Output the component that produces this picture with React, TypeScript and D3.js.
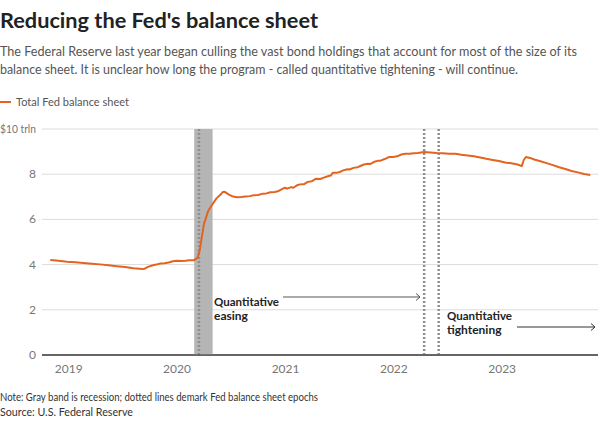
import React from "react";
import * as d3 from "d3";

const dates: string[] = [
  "2018-10-31","2018-11-28","2018-12-26","2019-01-23","2019-02-20","2019-03-20","2019-04-17","2019-05-15",
  "2019-06-12","2019-07-10","2019-08-07","2019-08-28","2019-09-11","2019-09-25","2019-10-09","2019-10-23",
  "2019-11-06","2019-11-20","2019-12-04","2019-12-18","2020-01-01","2020-01-15","2020-01-29","2020-02-12",
  "2020-02-26","2020-03-11","2020-03-18","2020-03-25","2020-04-01","2020-04-08","2020-04-15","2020-04-29",
  "2020-05-13","2020-05-27","2020-06-03","2020-06-10","2020-06-24","2020-07-08","2020-07-22","2020-08-05",
  "2020-08-19","2020-09-02","2020-09-16","2020-09-30","2020-10-14","2020-10-28","2020-11-11","2020-11-25",
  "2020-12-09","2020-12-23","2020-12-30","2021-01-06","2021-01-20","2021-01-27","2021-02-10","2021-02-24",
  "2021-03-03","2021-03-17","2021-03-31","2021-04-14","2021-04-28","2021-05-12","2021-05-26","2021-06-02",
  "2021-06-09","2021-06-23","2021-07-07","2021-07-14","2021-07-28","2021-08-04","2021-08-18","2021-09-01",
  "2021-09-08","2021-09-22","2021-10-06","2021-10-13","2021-10-27","2021-11-10","2021-11-17","2021-12-01",
  "2021-12-15","2021-12-29","2022-01-12","2022-01-26","2022-02-09","2022-02-23","2022-03-09","2022-03-23",
  "2022-04-13","2022-05-04","2022-05-25","2022-06-15","2022-07-06","2022-07-27","2022-08-17","2022-09-07",
  "2022-09-28","2022-10-19","2022-11-09","2022-11-30","2022-12-21","2023-01-11","2023-02-01","2023-02-22",
  "2023-03-08","2023-03-15","2023-03-22","2023-04-05","2023-04-19","2023-05-10","2023-05-31","2023-06-21",
  "2023-07-12","2023-08-02","2023-08-23","2023-09-13","2023-10-04","2023-10-25"
];

const values: number[] = [
  4.20,4.17,4.13,4.10,4.07,4.04,4.01,3.97,
  3.93,3.89,3.84,3.82,3.80,3.90,3.96,4.00,
  4.05,4.06,4.09,4.15,4.17,4.16,4.17,4.19,
  4.19,4.31,4.67,5.25,5.81,6.08,6.37,6.66,
  6.93,7.10,7.21,7.22,7.10,7.01,6.98,6.99,
  7.01,7.03,7.07,7.08,7.13,7.15,7.20,7.21,
  7.26,7.36,7.40,7.36,7.43,7.40,7.52,7.56,
  7.55,7.66,7.69,7.80,7.79,7.86,7.92,7.94,
  8.06,8.06,8.12,8.17,8.22,8.21,8.28,8.31,
  8.35,8.43,8.46,8.45,8.55,8.60,8.60,8.67,
  8.76,8.76,8.79,8.87,8.90,8.90,8.93,8.94,
  8.98,8.96,8.94,8.93,8.91,8.90,8.86,8.83,
  8.79,8.74,8.68,8.63,8.58,8.52,8.48,8.43,
  8.36,8.64,8.76,8.72,8.65,8.57,8.49,8.40,
  8.31,8.23,8.14,8.08,8.01,7.96
];

const yTicks: number[] = [0, 2, 4, 6, 8, 10];
const yTickLabels: string[] = ["0", "2", "4", "6", "8", "$10 trln"];
const xTickYears: number[] = [2019, 2020, 2021, 2022, 2023];

const recession: string[] = ["2020-02-28", "2020-04-30"];
const epochLines: string[] = ["2020-03-15", "2022-04-13", "2022-06-01"];

const ORANGE = "#e4631f";
const FONT = "'Source Sans Pro', Lato, 'Noto Sans', sans-serif";

export default function App() {
  const parse = d3.timeParse("%Y-%m-%d");
  const data = dates.map((d, i) => ({ date: parse(d) as Date, value: values[i] }));

  const x = d3
    .scaleTime()
    .domain([parse("2018-10-03") as Date, parse("2023-11-20") as Date])
    .range([42, 598]);
  const y = d3.scaleLinear().domain([0, 10]).range([355, 129]);

  const line = d3
    .line<{ date: Date; value: number }>()
    .x((d) => x(d.date))
    .y((d) => y(d.value))
    .curve(d3.curveLinear);

  const recX0 = x(parse(recession[0]) as Date);
  const recX1 = x(parse(recession[1]) as Date);

  return (
    <svg
      width={600}
      height={422}
      style={{ position: "absolute", left: 0, top: 0, background: "#fff" }}
      fontFamily={FONT}
    >
      <text x={0} y={28} fontSize={21} fontWeight={700} fill="#222" textLength={318} lengthAdjust="spacingAndGlyphs">
        Reducing the Fed's balance sheet
      </text>
      <text x={0} y={56} fontSize={12.8} fill="#555" textLength={577} lengthAdjust="spacingAndGlyphs">
        The Federal Reserve last year began culling the vast bond holdings that account for most of the size of its
      </text>
      <text x={0} y={74} fontSize={12.8} fill="#555" textLength={518} lengthAdjust="spacingAndGlyphs">
        balance sheet. It is unclear how long the program - called quantitative tightening - will continue.
      </text>

      <line x1={0} x2={11} y1={102} y2={102} stroke={ORANGE} strokeWidth={2} />
      <text x={16} y={106} fontSize={11.5} fill="#555" textLength={113} lengthAdjust="spacingAndGlyphs">
        Total Fed balance sheet
      </text>

      {/* gridlines */}
      {yTicks.map((t, i) => (
        <g key={t}>
          <line
            x1={42}
            x2={598}
            y1={y(t)}
            y2={y(t)}
            stroke={t === 0 ? "#333" : "#dcdcdc"}
            strokeWidth={1}
          />
          {t === 10 ? (
            <text x={36} y={y(t) + 4} fontSize={11} fill="#777" textAnchor="end" textLength={36} lengthAdjust="spacingAndGlyphs">
              {yTickLabels[i]}
            </text>
          ) : (
            <text x={36} y={y(t) + 4} fontSize={12} fill="#777" textAnchor="end">
              {yTickLabels[i]}
            </text>
          )}
        </g>
      ))}

      {/* recession band */}
      <rect x={recX0} y={y(10)} width={recX1 - recX0} height={y(0) - y(10)} fill="#b5b5b5" />

      {/* epoch dotted lines */}
      {epochLines.map((d) => {
        const xx = x(parse(d) as Date);
        return (
          <line
            key={d}
            x1={xx}
            x2={xx}
            y1={y(10)}
            y2={y(0)}
            stroke="#8f8f8f"
            strokeWidth={2.5}
            strokeDasharray="2,2"
          />
        );
      })}

      <line x1={42} x2={598} y1={y(0)} y2={y(0)} stroke="#333" strokeWidth={1} />

      {/* x tick labels */}
      {xTickYears.map((yr) => (
        <text
          key={yr}
          x={x(new Date(yr, 0, 1))}
          y={373}
          fontSize={12}
          fill="#777"
          textAnchor="middle"
        >
          {yr}
        </text>
      ))}

      <path d={line(data) || ""} fill="none" stroke={ORANGE} strokeWidth={2} strokeLinejoin="round" />

      {/* annotations */}
      <text x={214} y={306} fontSize={12} fontWeight={700} fill="#222" textLength={65} lengthAdjust="spacingAndGlyphs">
        Quantitative
      </text>
      <text x={214} y={320} fontSize={12} fontWeight={700} fill="#222">
        easing
      </text>
      <line x1={283} x2={420} y1={297} y2={297} stroke="#555" strokeWidth={1} />
      <path d="M416,293.5 L420,297 L416,300.5" fill="none" stroke="#555" strokeWidth={1} />

      <text x={447} y={320} fontSize={12} fontWeight={700} fill="#222" textLength={65} lengthAdjust="spacingAndGlyphs">
        Quantitative
      </text>
      <text x={447} y={334} fontSize={12} fontWeight={700} fill="#222">
        tightening
      </text>
      <line x1={517} x2={595} y1={327} y2={327} stroke="#333" strokeWidth={1} />
      <path d="M591,323.5 L595,327 L591,330.5" fill="none" stroke="#333" strokeWidth={1} />

      <text x={0} y={401} fontSize={10.5} fill="#333" textLength={318} lengthAdjust="spacingAndGlyphs">
        Note: Gray band is recession; dotted lines demark Fed balance sheet epochs
      </text>
      <text x={0} y={416} fontSize={10.5} fill="#333" textLength={133} lengthAdjust="spacingAndGlyphs">
        Source: U.S. Federal Reserve
      </text>
    </svg>
  );
}
